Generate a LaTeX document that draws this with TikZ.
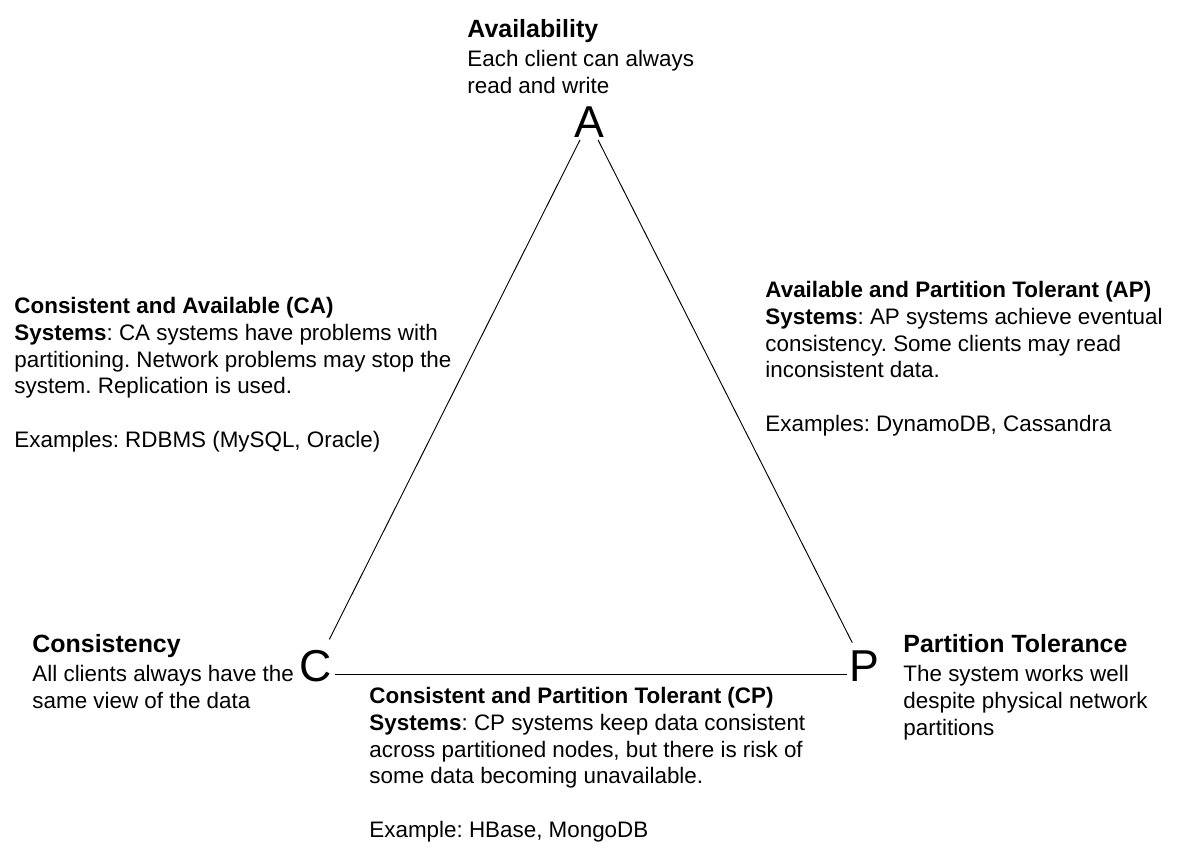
\documentclass[tikz,border=0pt]{standalone}
\usepackage{fontspec}
\setmainfont{Liberation Sans}
\usetikzlibrary{positioning}
\frenchspacing

\begin{document}
\begin{tikzpicture}[x=0.75pt,y=-0.75pt,line width=0.7pt]
  \tikzstyle{vertex}=[font=\fontsize{33.5}{40}\selectfont,inner sep=1.5pt]
  \tikzstyle{heading}=[font=\bfseries\fontsize{18.7}{22}\selectfont,anchor=base west,inner sep=0pt]
  \tikzstyle{textblock}=[font=\fontsize{16.8}{20}\selectfont,align=left,anchor=north west,inner sep=0pt]
  \useasboundingbox (0,0) rectangle (1183,860);

  % corners of the triangle
  \node[vertex] (A) at (589,122) {A};
  \node[vertex] (C) at (316,666) {C};
  \node[vertex] (P) at (864,666) {P};

  \draw[shorten >=7pt] (A) -- (C);
  \draw[shorten >=4.5pt] (A) -- (P);
  \draw ([yshift=-6pt]C.east) -- ([yshift=-6pt]P.west);

  % properties
  \node[heading] (availability) at (467,37) {Availability};
  \node[textblock] (availtext) [below=9.75pt of availability.base west,anchor=north west]
    {Each client can always\\read and write};

  \node[heading] (consistency) at (32,652) {Consistency};
  \node[textblock] (constext) [below=9.75pt of consistency.base west,anchor=north west]
    {All clients always have the\\same view of the data};

  \node[heading] (partition) at (903,652) {Partition Tolerance};
  \node[textblock] (parttext) [below=9.75pt of partition.base west,anchor=north west]
    {The system works well\\despite physical network\\partitions};

  % system classes
  \node[textblock] (ca) at (14,297)
    {\textbf{Consistent and Available (CA)}\\
     \textbf{Systems}: CA systems have problems with\\
     partitioning. Network problems may stop the\\
     system. Replication is used.\\[20pt]
     Examples: RDBMS (MySQL, Oracle)};

  \node[textblock] (ap) at (765,281)
    {\textbf{Available and Partition Tolerant (AP)}\\
     \textbf{Systems}: AP systems achieve eventual\\
     consistency. Some clients may read\\
     inconsistent data.\\[20pt]
     Examples: DynamoDB, Cassandra};

  \node[textblock] (cp) at (369,687)
    {\textbf{Consistent and Partition Tolerant (CP)}\\
     \textbf{Systems}: CP systems keep data consistent\\
     across partitioned nodes, but there is risk of\\
     some data becoming unavailable.\\[20pt]
     Example: HBase, MongoDB};
\end{tikzpicture}
\end{document}
